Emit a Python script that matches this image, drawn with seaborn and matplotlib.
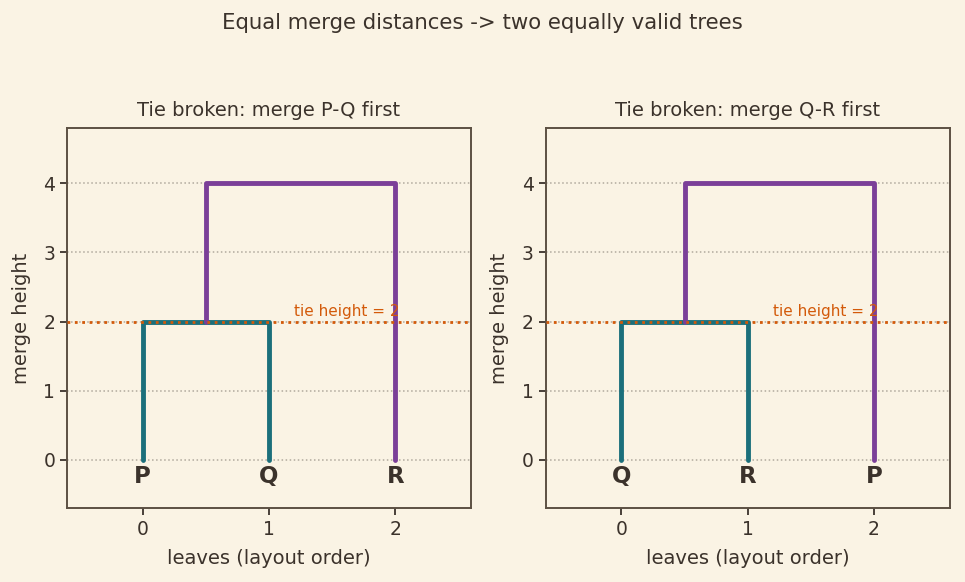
import matplotlib
matplotlib.use("Agg")
import matplotlib.pyplot as plt
import seaborn as sns

# -------------------------------
# Data
# -------------------------------
leaves_left = ["P", "Q", "R"]
leaves_right = ["Q", "R", "P"]
titles = ["Tie broken: merge P-Q first", "Tie broken: merge Q-R first"]
merge_heights = [2, 4]          # first merge, second merge
tie_height = 2

BG = "#faf3e4"
INK = "#3b322b"
TEAL = "#1b6f7b"
PURPLE = "#7b3f98"
ORANGE = "#d35a0a"

sns.set_theme(style="ticks", rc={
    "figure.facecolor": BG,
    "axes.facecolor": BG,
    "axes.edgecolor": "#5c5043",
    "axes.linewidth": 1.4,
    "text.color": INK,
    "axes.labelcolor": INK,
    "xtick.color": INK,
    "ytick.color": INK,
    "xtick.labelcolor": INK,
    "ytick.labelcolor": INK,
    "xtick.major.size": 5,
    "ytick.major.size": 5,
    "xtick.major.width": 1.3,
    "ytick.major.width": 1.3,
})
plt.rcParams["font.family"] = ["DejaVu Sans"]

fig, axes = plt.subplots(1, 2, figsize=(9.65, 5.82), dpi=100)
fig.subplots_adjust(left=0.0695, right=0.984, top=0.78, bottom=0.127, wspace=0.185)

for ax, leaves, title in zip(axes, [leaves_left, leaves_right], titles):
    h1, h2 = merge_heights
    # first merge: leaves 0 and 1
    ax.plot([0, 0, 1, 1], [0, h1, h1, 0], color=TEAL, lw=3.5, zorder=3)
    # second merge: cluster midpoint and leaf 2
    mid = 0.5
    ax.plot([mid, mid, 2, 2], [h1, h2, h2, 0], color=PURPLE, lw=3.5, zorder=3)

    ax.axhline(tie_height, color=ORANGE, ls=":", lw=2.0, zorder=4)
    ax.text(1.2, tie_height + 0.04, f"tie height = {tie_height}", color=ORANGE,
            fontsize=11, va="bottom", ha="left")

    for i, name in enumerate(leaves):
        ax.text(i, -0.08, name, ha="center", va="top", fontsize=16.5,
                fontweight="bold", color=INK)

    ax.grid(axis="y", ls=":", color="#b0a99d", lw=1.1)
    ax.set_axisbelow(True)
    ax.set_xlim(-0.6, 2.6)
    ax.set_ylim(-0.7, 4.8)
    ax.set_xticks([0, 1, 2])
    ax.set_yticks([0, 1, 2, 3, 4])
    ax.tick_params(labelsize=13.5)
    ax.set_xlabel("leaves (layout order)", fontsize=14, labelpad=7)
    ax.set_ylabel("merge height", fontsize=14, labelpad=9)
    ax.set_title(title, fontsize=14, color=INK, pad=9)

fig.suptitle("Equal merge distances -> two equally valid trees", fontsize=15.3,
             color=INK, y=0.977)

fig.savefig("out.png", dpi=100, facecolor=BG)
